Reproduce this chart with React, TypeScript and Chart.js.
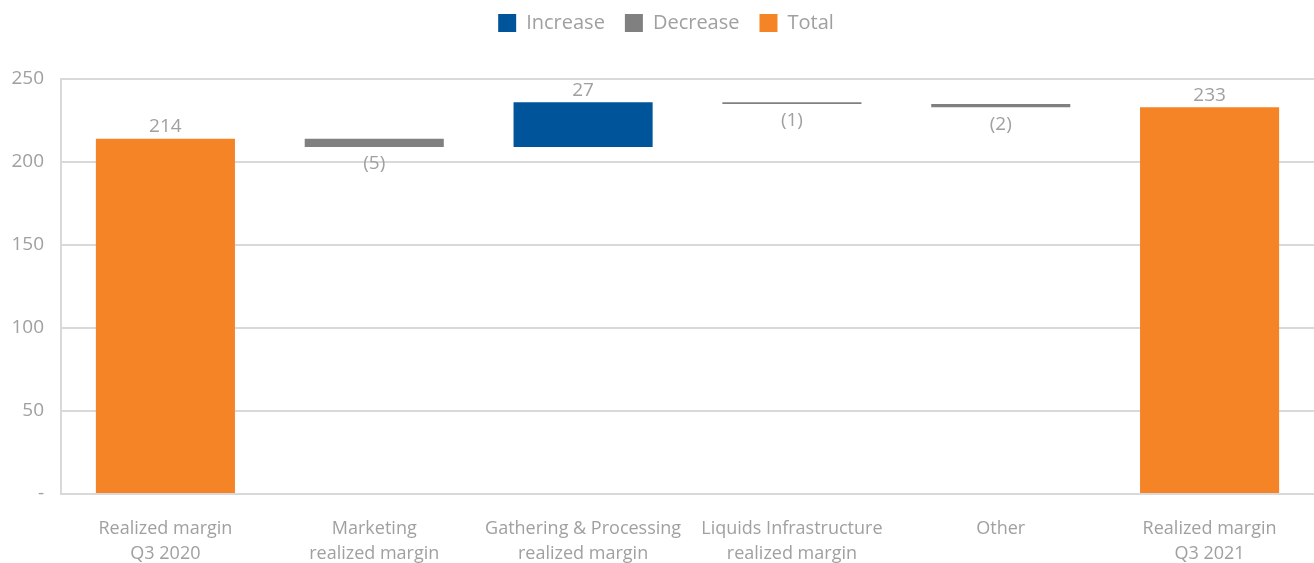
import React, { useEffect, useRef } from "react";
import { Chart, registerables } from "chart.js";

Chart.register(...registerables);

const categories: string[][] = [
  ["Realized margin", "Q3 2020"],
  ["Marketing", "realized margin"],
  ["Gathering & Processing", "realized margin"],
  ["Liquids Infrastructure", "realized margin"],
  ["Other"],
  ["Realized margin", "Q3 2021"],
];
// step values: totals are absolute, others are changes
const stepValues: number[] = [214, -5, 27, -1, -2, 233];
const stepTypes: string[] = ["total", "change", "change", "change", "change", "total"];
const valueLabels: string[] = ["214", "(5)", "27", "(1)", "(2)", "233"];
const yTicks: number[] = [0, 50, 100, 150, 200, 250];

const ORANGE = "#F58427";
const BLUE = "#00549A";
const GRAY = "#808080";
const TEXT = "#A0A0A0";
const GRID = "#D9D9D9";
const FONT = "'Open Sans', 'Noto Sans', sans-serif";

export default function App() {
  const ref = useRef<HTMLCanvasElement | null>(null);

  useEffect(() => {
    if (!ref.current) return;
    const inc: any[] = [];
    const dec: any[] = [];
    const tot: any[] = [];
    let running = 0;
    stepValues.forEach((v, i) => {
      if (stepTypes[i] === "total") {
        tot.push([0, v]);
        inc.push(null);
        dec.push(null);
        running = v;
      } else {
        const start = running;
        const end = running + v;
        running = end;
        tot.push(null);
        if (v >= 0) {
          inc.push([start, end]);
          dec.push(null);
        } else {
          dec.push([start, end]);
          inc.push(null);
        }
      }
    });

    const labelPlugin = {
      id: "valueLabels",
      afterDatasetsDraw(chart: any) {
        const ctx = chart.ctx;
        ctx.save();
        ctx.font = `19px ${FONT}`;
        ctx.fillStyle = TEXT;
        ctx.textAlign = "center";
        ctx.textBaseline = "middle";
        stepValues.forEach((v, i) => {
          let el: any = null;
          chart.data.datasets.forEach((ds: any, di: number) => {
            if (ds.data[i] != null) el = chart.getDatasetMeta(di).data[i];
          });
          if (!el) return;
          const top = Math.min(el.y, el.base);
          const bottom = Math.max(el.y, el.base);
          if (v >= 0) {
            ctx.fillText(valueLabels[i], el.x, top - 12);
          } else {
            ctx.fillText(valueLabels[i], el.x, bottom + 17);
          }
        });
        ctx.restore();
      },
    };

    const legendMargin = {
      id: "legendMargin",
      beforeInit(chart: any) {
        const orig = chart.legend.fit;
        chart.legend.fit = function () {
          orig.bind(chart.legend)();
          this.height = 86;
        };
      },
      beforeDraw(chart: any) {
        if (chart.legend) {
          chart.legend.left = 18;
          chart.legend.right = chart.width;
        }
      },
    };

    const common = {
      grouped: false,
      barPercentage: 0.666,
      categoryPercentage: 1,
      borderWidth: 0,
      borderSkipped: false,
    };

    const chart = new Chart(ref.current, {
      type: "bar",
      data: {
        labels: categories,
        datasets: [
          { label: "Increase", data: inc, backgroundColor: BLUE, ...common },
          { label: "Decrease", data: dec, backgroundColor: GRAY, ...common },
          { label: "Total", data: tot, backgroundColor: ORANGE, ...common },
        ] as any,
      },
      options: {
        animation: false,
        responsive: false,
        layout: { padding: { top: -7, left: 0, right: 0, bottom: 0 } },
        plugins: {
          legend: {
            position: "top",
            labels: {
              boxWidth: 18,
              boxHeight: 18,
              padding: 20,
              color: TEXT,
              font: { size: 20, family: FONT },
            },
          },
          tooltip: { enabled: false },
        },
        scales: {
          x: {
            grid: { display: false, drawTicks: false },
            border: { display: true, color: GRID, width: 2 },
            ticks: {
              color: TEXT,
              font: { size: 18, family: FONT, lineHeight: "25px" },
              padding: 22,
              maxRotation: 0,
              autoSkip: false,
            },
            afterFit(s: any) {
              s.height = 69;
            },
          },
          y: {
            min: 0,
            max: 250,
            afterBuildTicks(s: any) {
              s.ticks = yTicks.map((v) => ({ value: v }));
            },
            grid: { color: GRID, lineWidth: 2, drawTicks: false },
            border: { display: true, color: GRID, width: 2 },
            ticks: {
              color: TEXT,
              font: { size: 19, family: FONT },
              padding: 17,
              callback: (v: any) => (Number(v) === 0 ? "-" : String(v)),
            },
            afterFit(s: any) {
              s.width = 61;
            },
          },
        },
      } as any,
      plugins: [labelPlugin, legendMargin],
    });
    return () => chart.destroy();
  }, []);

  return (
    <div style={{ position: "absolute", left: 0, top: 0, width: 1314, height: 563, background: "#fff" }}>
      <canvas ref={ref} width={1314} height={563} style={{ display: "block" }} />
    </div>
  );
}
